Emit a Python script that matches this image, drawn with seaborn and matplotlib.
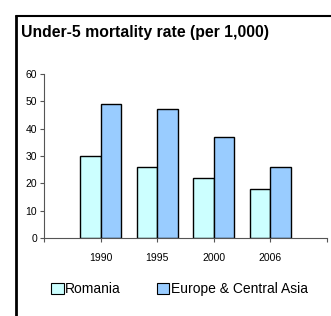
import pandas as pd
import matplotlib
matplotlib.use("Agg")
import matplotlib.pyplot as plt
import seaborn as sns
from matplotlib.lines import Line2D

# data
years = ["1990", "1995", "2000", "2006"]
romania = [30, 26, 22, 18]
europe_ca = [49, 47, 37, 26]
series_names = ["Romania", "Europe & Central Asia"]
colors = ["#CCFFFF", "#99CCFF"]

df = pd.DataFrame({
    "year": years * 2,
    "rate": romania + europe_ca,
    "region": [series_names[0]] * len(years) + [series_names[1]] * len(years),
})

sns.set_style("white")
plt.rcParams["font.family"] = ["Liberation Sans", "DejaVu Sans"]
plt.rcParams["text.color"] = "black"

fig = plt.figure(figsize=(3.31, 3.16), dpi=100)
ax = fig.add_axes([0.133, 0.247, 0.855, 0.519])

sns.barplot(data=df, x="year", y="rate", hue="region", order=years,
            hue_order=series_names, palette=colors, width=0.72,
            edgecolor="black", linewidth=1, saturation=1, ax=ax, legend=False)

ax.set_xlim(-1, len(years))
ax.set_ylim(0, 60)
ax.set_yticks(range(0, 61, 10))
ax.set_xticks(range(-1, len(years) + 1))
ax.set_xticklabels([""] + years + [""])
ax.set_xlabel("")
ax.set_ylabel("")
for s in ["top", "right"]:
    ax.spines[s].set_visible(False)
for s in ["left", "bottom"]:
    ax.spines[s].set_color("#555555")
    ax.spines[s].set_linewidth(0.8)
ax.tick_params(axis="both", labelsize=7.5, colors="#555555", labelcolor="black",
               length=3, width=0.8, direction="out")
ax.tick_params(axis="x", pad=8)
ax.tick_params(axis="y", pad=2)
ax.tick_params(left=True, bottom=True)

# outer frame, partly cropped in the reference
fig.add_artist(Line2D([0.048, 0.048], [0, 0.949], color="black", lw=2,
                      transform=fig.transFigure))
fig.add_artist(Line2D([0.048, 1.0], [0.949, 0.949], color="black", lw=1.5,
                      transform=fig.transFigure))

fig.text(0.062, 0.92, "Under-5 mortality rate (per 1,000)", fontsize=11.3,
         fontweight="bold", va="top", ha="left", color="black")

handles = [plt.Rectangle((0, 0), 1, 1, facecolor=c, edgecolor="black", lw=0.8)
           for c in colors]
fig.legend(handles, series_names, loc="center", bbox_to_anchor=(0.542, 0.084),
           ncol=2, frameon=False, fontsize=10, handlelength=0.9,
           handleheight=0.9, handletextpad=0.1, columnspacing=2.6,
           labelcolor="black")

fig.savefig("out.png", dpi=100)
